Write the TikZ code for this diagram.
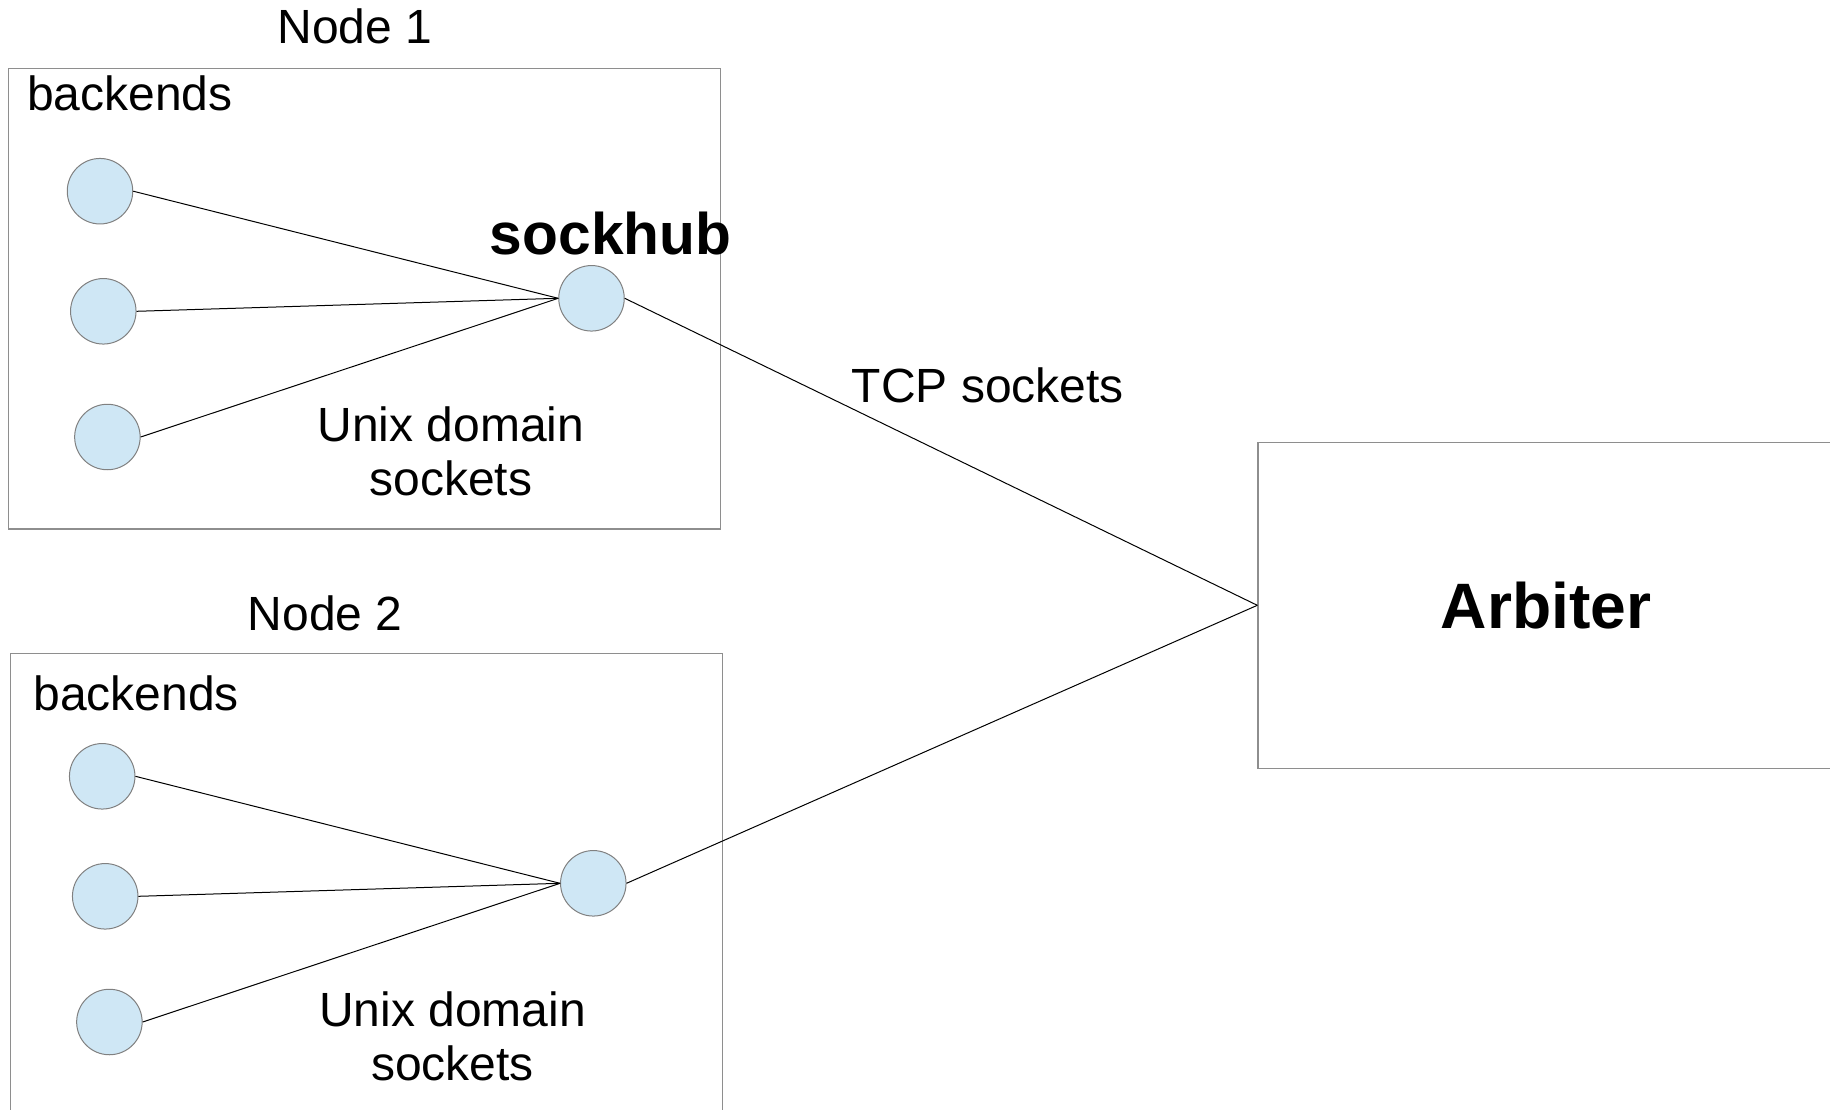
\documentclass[tikz,border=0pt]{standalone}
\usepackage{fontspec}
\setmainfont{Liberation Sans}
\definecolor{sockfill}{HTML}{CFE7F5}
\definecolor{sockline}{HTML}{808080}
\definecolor{frameline}{HTML}{8E8E8E}
\tikzset{
  hostbox/.style={draw=frameline, line width=1.4pt, rectangle, inner sep=0pt,
    minimum width=712.4pt, minimum height=460.7pt},
  arbbox/.style={draw=frameline, line width=1.4pt, rectangle, inner sep=0pt,
    minimum width=576pt, minimum height=326pt,
    font=\bfseries\fontsize{64.2}{70}\selectfont},
  sock/.style={circle, draw=sockline, line width=1pt, fill=sockfill,
    inner sep=0pt, minimum size=65.5pt},
  lbl/.style={inner sep=0pt, font=\fontsize{48}{53.3}\selectfont},
  hublbl/.style={inner sep=0pt, font=\bfseries\fontsize{58.7}{64}\selectfont},
  link/.style={draw=black, line width=1pt}
}
\begin{document}
\begin{tikzpicture}[x=1pt, y=-1pt]
\useasboundingbox (0,0) rectangle (1830,1110);
\clip (0,0) rectangle (1830,1110);

% host frames
\node[hostbox] (host1) at (364.5,298.65) {};
\node[hostbox] (host2) at (366.5,883.65) {};

% host titles and captions
\node[lbl, anchor=base] (title1) at (354.8,44) {Node 1};
\node[lbl, anchor=base] (title2) at (325.1,630) {Node 2};
\node[lbl, anchor=base west] (be1) at (27,111) {backends};
\node[lbl, anchor=base west] (be2) at (33.3,710) {backends};

% arbiter
\node[arbbox] (arbiter) at (1546,605.3) {Arbiter};

% sockets of host 1
\node[sock] (b11) at (100,191.2) {};
\node[sock] (b12) at (103.3,311.3) {};
\node[sock] (b13) at (107.4,437) {};
\node[sock] (hub1) at (591.5,298.3) {};
\node[hublbl, anchor=base west] (hubname) at (489.7,254) {sockhub};

% sockets of host 2
\node[sock] (b21) at (102.2,776.3) {};
\node[sock] (b22) at (105.2,896.3) {};
\node[sock] (b23) at (109.4,1022) {};
\node[sock] (hub2) at (593.3,883.3) {};

% local connections
\foreach \b in {b11,b12,b13} \draw[link] (\b.east) -- (hub1.west);
\foreach \b in {b21,b22,b23} \draw[link] (\b.east) -- (hub2.west);

% network connections
\draw[link] (hub1.east) -- (arbiter.west);
\draw[link] (hub2.east) -- (arbiter.west);

% connection captions
\node[lbl, anchor=base] (uds1a) at (450.8,441.7) {Unix domain};
\node[lbl, anchor=base] (uds1b) at (450.8,495) {sockets};
\node[lbl, anchor=base] (uds2a) at (452.5,1026.7) {Unix domain};
\node[lbl, anchor=base] (uds2b) at (452.5,1080) {sockets};
\node[lbl, anchor=base] (tcp) at (988,402.7) {TCP sockets};
\end{tikzpicture}
\end{document}
